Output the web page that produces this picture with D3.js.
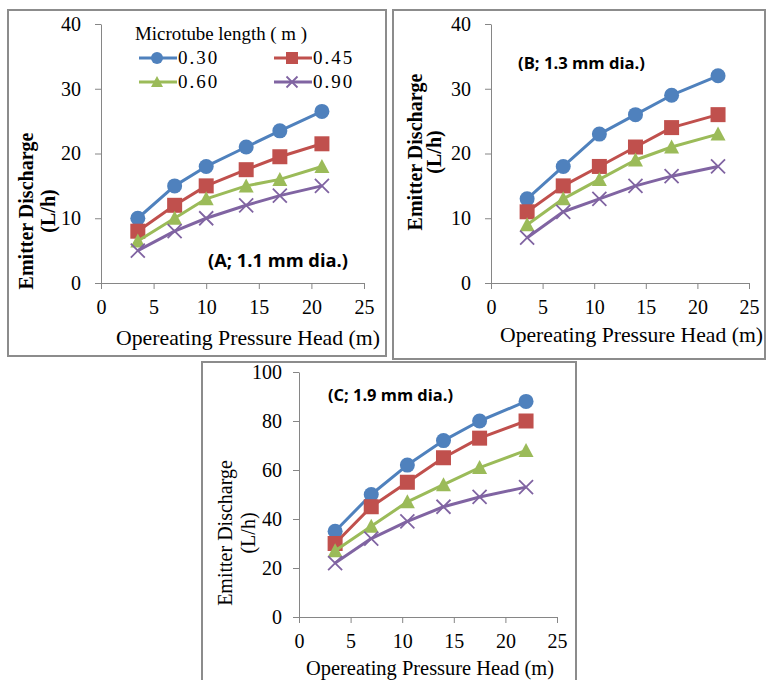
<!DOCTYPE html>
<html>
<head>
<meta charset="utf-8">
<script src="https://cdn.jsdelivr.net/npm/d3@7"></script>
<style>
  body { margin: 0; background: #fff; }
  svg { display: block; }
</style>
</head>
<body>
<div id="chart"></div>
<script>
// microtube lengths (legend) and styling per series
const lengths = ["0.30", "0.45", "0.60", "0.90"];
const colors = ["#4F81BD", "#C0504D", "#9BBB59", "#8064A2"];
const markerTypes = ["circle", "square", "triangle", "cross"];
const xTicks = [0, 5, 10, 15, 20, 25];
const yTicksAB = [0, 10, 20, 30, 40];
const yTicksC = [0, 20, 40, 60, 80, 100];

// panel A (1.1 mm)
const headA = [3.5, 7, 10, 13.8, 17, 21];
const a030 = [10, 15, 18, 21, 23.5, 26.5];
const a045 = [8, 12, 15, 17.5, 19.5, 21.5];
const a060 = [6.5, 10, 13, 15, 16, 18];
const a090 = [5, 8, 10, 12, 13.5, 15];

// panel B (1.3 mm)
const headB = [3.5, 7, 10.5, 14, 17.5, 22];
const b030 = [13, 18, 23, 26, 29, 32];
const b045 = [11, 15, 18, 21, 24, 26];
const b060 = [9, 13, 16, 19, 21, 23];
const b090 = [7, 11, 13, 15, 16.5, 18];

// panel C (1.9 mm)
const headC = [3.5, 7, 10.5, 14, 17.5, 22];
const c030 = [35, 50, 62, 72, 80, 88];
const c045 = [30, 45, 55, 65, 73, 80];
const c060 = [27, 37, 47, 54, 61, 68];
const c090 = [22, 32, 39, 45, 49, 53];

const serif = "'Liberation Serif', 'Times New Roman', serif";
const sans = "'Open Sans', 'Liberation Sans', sans-serif";

const svg = d3.select("#chart")
    .append("svg")
    .attr("width", 766)
    .attr("height", 680);

function drawMarker(g, type, color, cx, cy, s) {
    if (type === "circle") {
        g.append("circle").attr("cx", cx).attr("cy", cy).attr("r", s / 2).attr("fill", color);
    } else if (type === "square") {
        g.append("rect").attr("x", cx - s / 2).attr("y", cy - s / 2)
            .attr("width", s).attr("height", s).attr("fill", color);
    } else if (type === "triangle") {
        g.append("path")
            .attr("d", `M${cx},${cy - s / 2}L${cx + s / 2},${cy + s / 2 - 1}L${cx - s / 2},${cy + s / 2 - 1}Z`)
            .attr("fill", color);
    } else {
        const h = s / 2 - 0.5;
        g.append("path")
            .attr("d", `M${cx - h},${cy - h}L${cx + h},${cy + h}M${cx - h},${cy + h}L${cx + h},${cy - h}`)
            .attr("stroke", color).attr("stroke-width", 1.8).attr("fill", "none");
    }
}

function drawPanel(p) {
    const g = svg.append("g");

    g.append("rect")
        .attr("x", p.box[0]).attr("y", p.box[1])
        .attr("width", p.box[2] - p.box[0]).attr("height", p.box[3] - p.box[1])
        .attr("fill", "#fff").attr("stroke", "#8c8c8c").attr("stroke-width", 2);

    const x = d3.scaleLinear().domain([0, 25]).range(p.xr);
    const y = d3.scaleLinear().domain([0, p.yMax]).range(p.yr);

    const xAxis = g.append("g")
        .attr("transform", `translate(0,${p.yr[0]})`)
        .call(d3.axisBottom(x).tickValues(xTicks).tickSize(6).tickSizeOuter(0).tickPadding(11));
    const yAxis = g.append("g")
        .attr("transform", `translate(${p.xr[0]},0)`)
        .call(d3.axisLeft(y).tickValues(p.yTicks).tickSize(6).tickSizeOuter(0).tickPadding(p.yPad));

    [xAxis, yAxis].forEach(a => {
        a.select(".domain").attr("stroke", "#868686");
        a.selectAll(".tick line").attr("stroke", "#868686");
        a.selectAll("text")
            .attr("fill", "#000")
            .style("font-family", serif)
            .style("font-size", "20px");
    });

    const line = d3.line()
        .x(d => x(d[0]))
        .y(d => y(d[1]));

    p.series.forEach((vals, i) => {
        const pts = p.head.map((h, j) => [h, vals[j]]);
        g.append("path")
            .datum(pts)
            .attr("d", line)
            .attr("fill", "none")
            .attr("stroke", colors[i])
            .attr("stroke-width", 3)
            .attr("stroke-linejoin", "round");
        pts.forEach(d => drawMarker(g, markerTypes[i], colors[i], x(d[0]), y(d[1]), 15));
    });

    // axis titles
    g.append("text")
        .attr("x", p.xTitle[0]).attr("y", p.xTitle[1])
        .attr("textLength", p.xTitle[2]).attr("lengthAdjust", "spacingAndGlyphs")
        .style("font-family", serif).style("font-size", p.xTitleSize + "px")
        .text("Opereating Pressure Head (m)");

    const yt = g.append("text")
        .attr("transform", `translate(${p.yTitle[0]},${p.yTitle[2]})rotate(-90)`)
        .attr("text-anchor", "middle")
        .style("font-family", serif).style("font-size", "20px")
        .style("font-weight", p.yBold ? "bold" : "normal");
    yt.append("tspan").attr("x", 0).attr("y", 0).text("Emitter Discharge");
    yt.append("tspan").attr("x", 0).attr("y", p.yTitle[1] - p.yTitle[0]).text("(L/h)");

    // panel label
    g.append("text")
        .attr("x", p.label[1]).attr("y", p.label[2])
        .attr("textLength", p.label[3]).attr("lengthAdjust", "spacingAndGlyphs")
        .style("font-family", sans).style("font-weight", "bold").style("font-size", p.label[4] + "px")
        .text(p.label[0]);
}

drawPanel({
    box: [8, 10, 386, 356],
    xr: [101, 364], yr: [283, 24], yMax: 40, yTicks: yTicksAB, yPad: 14,
    head: headA, series: [a030, a045, a060, a090],
    xTitle: [116, 345, 264], xTitleSize: 21.5,
    yTitle: [33, 55, 211], yBold: true,
    label: ["(A; 1.1 mm dia.)", 208, 267, 140, 17]
});

drawPanel({
    box: [393, 10, 765, 359],
    xr: [491, 749], yr: [283, 24], yMax: 40, yTicks: yTicksAB, yPad: 14,
    head: headB, series: [b030, b045, b060, b090],
    xTitle: [500, 342, 263], xTitleSize: 21.5,
    yTitle: [422, 441, 152], yBold: true,
    label: ["(B; 1.3 mm dia.)", 518, 69, 127, 15.5]
});

drawPanel({
    box: [202, 362, 576, 681],
    xr: [299, 557], yr: [617, 372], yMax: 100, yTicks: yTicksC, yPad: 11,
    head: headC, series: [c030, c045, c060, c090],
    xTitle: [306, 675, 248], xTitleSize: 20.5,
    yTitle: [232, 255, 533], yBold: false,
    label: ["(C; 1.9 mm dia.)", 328, 401, 125, 15.5]
});

// legend (inside panel A)
const legend = svg.append("g");
legend.append("text")
    .attr("x", 135).attr("y", 40)
    .attr("textLength", 172).attr("lengthAdjust", "spacingAndGlyphs")
    .style("font-family", serif).style("font-size", "19px")
    .text("Microtube length ( m )");

const legendCols = [139, 274];
const legendRows = [58, 82];
lengths.forEach((len, i) => {
    const lx = legendCols[i % 2];
    const ly = legendRows[Math.floor(i / 2)];
    legend.append("line")
        .attr("x1", lx).attr("x2", lx + 38)
        .attr("y1", ly).attr("y2", ly)
        .attr("stroke", colors[i]).attr("stroke-width", 3);
    drawMarker(legend, markerTypes[i], colors[i], lx + 18, ly, 12);
    legend.append("text")
        .attr("x", lx + 39).attr("y", ly + 6)
        .style("font-family", serif).style("font-size", "19px")
        .style("letter-spacing", "2px")
        .text(len);
});
</script>
</body>
</html>
